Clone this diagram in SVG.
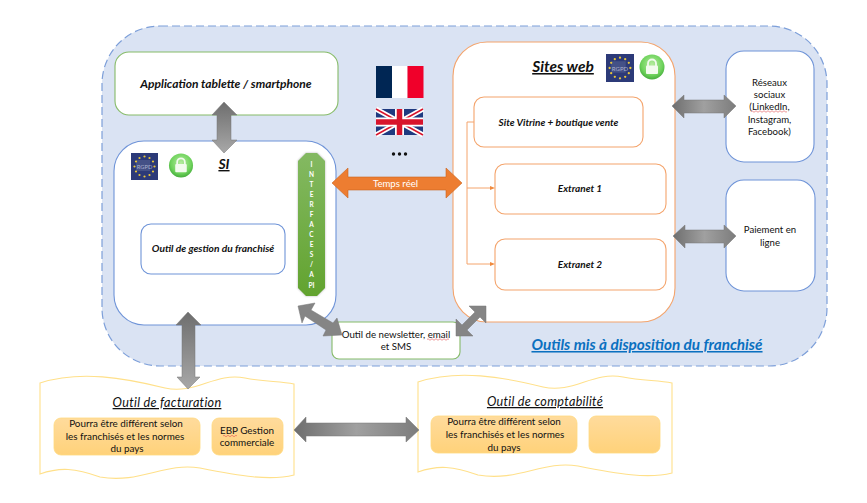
<svg xmlns="http://www.w3.org/2000/svg" width="867" height="503" viewBox="0 0 867 503">
<style>
text{font-family:Lato,"Liberation Sans",sans-serif;fill:#111;text-anchor:middle}
.bi{font-weight:700;font-style:italic}
.u{text-decoration:underline}
.t{font-size:9.6px}
.p{font-size:9.9px}
.api{font-size:6.5px;font-weight:700;fill:#fff}
.blue{fill:#fff;stroke:#6f94d8;stroke-width:1.1}
.orange{fill:#fff;stroke:#f4a46c;stroke-width:1.1}
.green{fill:#fff;stroke:#86bb68;stroke-width:1.1}
.doc{fill:#fff;stroke:#ffe08a;stroke-width:1.1}
.note{fill:url(#yel);stroke:#ffd980;stroke-width:.8}
.gh{fill:url(#grayH);stroke:#777;stroke-width:.5}
.gv{fill:url(#grayV);stroke:#777;stroke-width:.5}
.wire{fill:none;stroke:#f4a46c;stroke-width:1}
.sq{fill:none;stroke:#e05050;stroke-width:.6}
</style>
<defs>
<linearGradient id="grayH" x1="0" x2="1" y1="0" y2="0"><stop offset="0" stop-color="#6e6e6e"/><stop offset=".5" stop-color="#a0a0a0"/><stop offset="1" stop-color="#7c7c7c"/></linearGradient>
<linearGradient id="grayV" x1="0" x2="0" y1="0" y2="1"><stop offset="0" stop-color="#6e6e6e"/><stop offset="1" stop-color="#a8a8a8"/></linearGradient>
<linearGradient id="yel" x1="0" x2="0" y1="0" y2="1"><stop offset="0" stop-color="#ffdb9c"/><stop offset="1" stop-color="#ffd27a"/></linearGradient>
<linearGradient id="grn" x1="0" x2="0" y1="0" y2="1"><stop offset="0" stop-color="#84b962"/><stop offset="1" stop-color="#62a32f"/></linearGradient>
<radialGradient id="lockg" cx=".5" cy=".4" r=".6"><stop offset="0" stop-color="#b6ecA0"/><stop offset=".7" stop-color="#6fd35c"/><stop offset="1" stop-color="#45ad3c"/></radialGradient>
<filter id="sh" x="-30%" y="-10%" width="160%" height="120%"><feGaussianBlur stdDeviation="1.2"/></filter>
<symbol id="rgpd" viewBox="0 0 27 27" overflow="visible">
<rect width="27" height="27" fill="#2c3a78"/>
<rect x="5" y="7" width="14" height="11" fill="#55608f" opacity=".6"/>
<g fill="#e8c63a"><circle cx="13.500" cy="3.500" r="1.100"/><circle cx="18.500" cy="5" r="1.100"/><circle cx="22" cy="8.500" r="1.100"/><circle cx="23.500" cy="13.500" r="1.100"/><circle cx="22" cy="18.500" r="1.100"/><circle cx="18.500" cy="22" r="1.100"/><circle cx="13.500" cy="23.500" r="1.100"/><circle cx="8.500" cy="22" r="1.100"/><circle cx="5" cy="18.500" r="1.100"/><circle cx="3.500" cy="13.500" r="1.100"/><circle cx="5" cy="8.500" r="1.100"/><circle cx="8.500" cy="5" r="1.100"/></g>
<text x="13.500" y="16" style="font-size:5.800px;fill:#aab0cc">RGPD</text>
</symbol>
<symbol id="lock" viewBox="0 0 26 26" overflow="visible">
<circle cx="13" cy="13" r="12.500" fill="url(#lockg)"/>
<path d="M9 12V9.500a4 4 0 0 1 8 0V12" fill="none" stroke="#f2fbee" stroke-width="1.800"/>
<rect x="7" y="11.500" width="12" height="8.500" rx="1" fill="#f2fbee"/>
</symbol>
</defs>

<rect width="867" height="503" fill="#fff"/>
<g id="panel"><rect x="102" y="26" width="725" height="340" rx="58" fill="#dae3f3" stroke="#7d9fd9" stroke-width="1.200" stroke-dasharray="8 4"/>
<text class="bi u" x="647" y="350" style="font-size:15.300px;fill:#0a70c0">Outils mis à disposition du franchisé</text></g>

<g id="node-app"><rect class="green" x="115" y="52" width="223" height="63" rx="14"/><text class="bi" x="226" y="88" style="font-size:12px">Application tablette / smartphone</text></g>

<g id="node-si"><rect class="blue" x="114" y="141" width="222" height="184" rx="30"/>
<use href="#rgpd" x="131" y="153" width="27" height="27"/><use href="#lock" x="168.500" y="153" width="25" height="25"/>
<text class="bi u" x="224" y="169" style="font-size:14px">SI</text></g>

<g id="node-outil-gestion"><rect class="blue" x="141" y="224" width="144" height="50" rx="10"/><text class="bi" x="213" y="252" style="font-size:10.200px">Outil de gestion du franchisé</text></g>

<g id="node-interfaces">
<polygon points="306,153 317,153 325,161 325,288 317,296 306,296 298,288 298,161" fill="#555" opacity=".45" filter="url(#sh)"/>
<polygon points="306,153 317,153 325,161 325,288 317,296 306,296 298,288 298,161" fill="url(#grn)"/>
<text class="api" x="311.500" y="167">I</text><text class="api" x="311.500" y="177">N</text><text class="api" x="311.500" y="187">T</text><text class="api" x="311.500" y="197">E</text><text class="api" x="311.500" y="207">R</text><text class="api" x="311.500" y="217">F</text><text class="api" x="311.500" y="227">A</text><text class="api" x="311.500" y="237">C</text><text class="api" x="311.500" y="247">E</text><text class="api" x="311.500" y="257">S</text><text class="api" x="311.500" y="267">/</text><text class="api" x="311.500" y="277">A</text><text class="api" x="311.500" y="288">PI</text>
</g>

<g id="node-flags">
<g id="flag-fr"><rect x="376" y="66" width="16" height="32" fill="#002654"/><rect x="392" y="66" width="15.500" height="32" fill="#fff"/><rect x="407.500" y="66" width="16" height="32" fill="#f0002a"/></g>
<g id="flag-uk"><rect x="376" y="109" width="47" height="26" fill="#1f3a80"/>
<path d="M376 109L423 135M423 109L376 135" stroke="#fff" stroke-width="5"/>
<path d="M376 109L423 135M423 109L376 135" stroke="#d8142c" stroke-width="1.500"/>
<path d="M399.500 109V135M376 122H423" stroke="#fff" stroke-width="9"/>
<path d="M399.500 109V135M376 122H423" stroke="#d8142c" stroke-width="5.500"/></g>
<g fill="#111"><circle cx="393.500" cy="154" r="1.700"/><circle cx="399.500" cy="154" r="1.700"/><circle cx="405.500" cy="154" r="1.700"/></g>
</g>

<g id="node-sites"><rect class="orange" x="453" y="42" width="222" height="280" rx="34"/>
<text class="bi u" x="563" y="72" style="font-size:15.500px">Sites web</text>
<use href="#rgpd" x="606" y="54" width="28" height="28"/><use href="#lock" x="639" y="54" width="26" height="26"/></g>
<g id="node-vitrine"><rect class="orange" x="474" y="97" width="169" height="50" rx="10"/><text class="bi" x="558.500" y="126" style="font-size:10px">Site Vitrine + boutique vente</text></g>
<g id="node-extranet1"><rect class="orange" x="495" y="164" width="171" height="50" rx="10"/><text class="bi" x="580" y="192" style="font-size:10px">Extranet 1</text></g>
<g id="node-extranet2"><rect class="orange" x="495" y="239" width="171" height="51" rx="10"/><text class="bi" x="580" y="268" style="font-size:10px">Extranet 2</text></g>

<g id="node-reseaux"><rect class="blue" x="726" y="51" width="88" height="111" rx="18"/>
<text class="t" x="769.500" y="86">Réseaux</text><text class="t" x="769.500" y="98">sociaux</text><text class="t" x="769.500" y="110">(LinkedIn,</text><text class="t" x="769.500" y="123">Instagram,</text><text class="t" x="769.500" y="135">Facebook)</text>
<path class="sq" d="M751 111.500q1 -1.500 2 0t2 0t2 0t2 0t2 0t2 0t2 0t2 0t2 0t2 0t2 0t2 0t2 0t2 0t2 0t2 0t2 0t2 0"/></g>
<g id="node-paiement"><rect class="blue" x="726" y="180" width="89" height="111" rx="18"/>
<text class="t" x="770" y="233">Paiement en</text><text class="t" x="770" y="246">ligne</text></g>

<g id="node-newsletter"><rect class="green" x="332" y="322" width="128" height="37" rx="7"/>
<text x="396" y="338" style="font-size:9.700px">Outil de newsletter, email</text><text x="396" y="350" style="font-size:9.700px">et SMS</text>
<path class="sq" d="M427 339.500q1 -1.500 2 0t2 0t2 0t2 0t2 0t2 0t2 0t2 0t2 0t2 0t2 0"/></g>

<g id="node-facturation"><path class="doc" d="M40 383C80 370 125 378 165 388C195 395 215 372 245 378C265 382 280 381 294 384V475C270 481 240 476 200 468C165 462 140 484 100 477C75 468 60 467 40 474Z"/>
<text class="u" x="167" y="407" style="font-size:12.600px;font-style:italic;letter-spacing:.3px">Outil de facturation</text>
<rect class="note" x="54" y="418" width="146" height="37" rx="7"/>
<text class="p" x="126" y="427">Pourra être différent selon</text><text class="p" x="125" y="440">les franchisés et les normes</text><text class="p" x="127" y="452">du pays</text>
<rect class="note" x="212" y="418" width="71" height="37" rx="7"/>
<text class="p" x="247" y="434">EBP Gestion</text><text class="p" x="247" y="446">commerciale</text>
<path class="sq" d="M223 436q1 -1.500 2 0t2 0t2 0t2 0t2 0t2 0t2 0"/></g>

<g id="node-comptabilite"><path class="doc" d="M418 382C458 369 503 377 543 387C573 394 593 371 623 377C643 381 658 380 672 383V473C648 479 618 474 578 466C543 460 518 482 478 475C453 466 438 465 418 472Z"/>
<text class="u" x="545" y="406" style="font-size:12.600px;font-style:italic;letter-spacing:.3px">Outil de comptabilité</text>
<rect class="note" x="431" y="416" width="146" height="37" rx="7"/>
<text class="p" x="504" y="425">Pourra être différent selon</text><text class="p" x="505" y="438">les franchisés et les normes</text><text class="p" x="504" y="451">du pays</text>
<rect class="note" x="589" y="416" width="71" height="37" rx="7"/></g>

<g id="connectors">
<path class="wire" d="M474 122H467V264H490M467 188H490"/>
<polygon points="495,188 490,186 490,190" fill="#f08a3e"/><polygon points="495,264 490,262 490,266" fill="#f08a3e"/>
<polygon class="gv" points="224,102 237,115 231,115 231,140 237,140 224,153 212,140 217,140 217,115 212,115"/>
<polygon class="gv" points="188,312 201,325 195,325 195,377 200,377 188,389 177,377 182,377 182,325 176,325"/>
<polygon class="gh" points="672,106 684,95 684,100 724,100 724,95 736,106 724,118 724,113 684,113 684,118"/>
<polygon class="gh" points="673,236 685,225 685,230 724,230 724,225 736,236 724,248 724,243 685,243 685,248"/>
<polygon class="gh" points="294,430 306,417 306,423 406,423 406,417 419,430 406,442 406,436 306,436 306,442"/>
<polygon points="298,306 315,303 311,310 333,323 337,318 342,335 323,336 326,330 305,316 302,323" fill="#858585" stroke="#777" stroke-width=".5"/>
<polygon points="486,306 486,323 480,317 467,330 473,336 456,336 456,319 462,325 475,312 469,306" fill="#858585" stroke="#777" stroke-width=".5"/>
<polygon points="332,183 348,168 348,177 446,177 446,168 462,183 446,198 446,190 348,190 348,198" fill="#ed7d31" stroke="#c9651f" stroke-width=".6"/>
<text x="395.500" y="187" style="font-size:9.600px;fill:#fff">Temps réel</text>
</g>
</svg>
